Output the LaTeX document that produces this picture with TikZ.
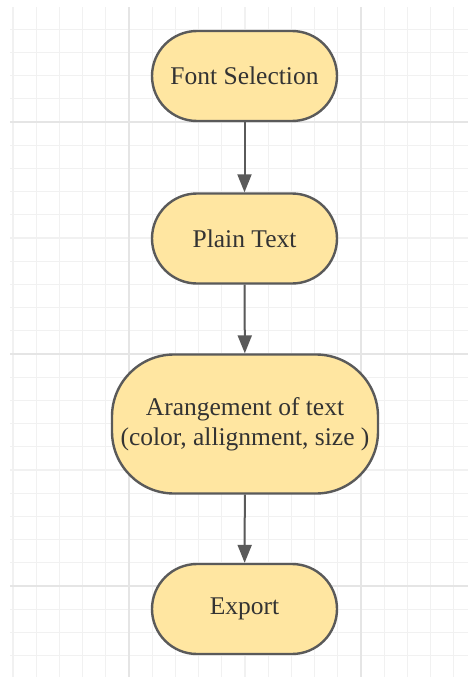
\documentclass[tikz,border=0pt]{standalone}
\usepackage{fontspec}
\setmainfont{Liberation Serif}
\usetikzlibrary{arrows.meta}
\definecolor{gridminor}{HTML}{F1F1F1}
\definecolor{gridmajor}{HTML}{E5E5E5}
\definecolor{boxfill}{HTML}{FFE6A1}
\definecolor{boxline}{HTML}{5A5A5A}
\definecolor{txt}{HTML}{333333}
\tikzset{
  stepbox/.style={draw=boxline, line width=2.4pt, fill=boxfill,
    rounded corners=45pt, minimum width=185pt, minimum height=90pt,
    inner sep=0pt, text=txt, font=\fontsize{25.5}{30}\selectfont, align=center},
  flow/.style={draw=boxline, line width=2pt,
    -{Triangle[length=18pt,width=14pt]}},
}
\begin{document}
\begin{tikzpicture}[x=1pt,y=-1pt]
  \useasboundingbox (0,0) rectangle (468,677);
  \fill[white] (0,0) rectangle (468,677);
  % background grid
  \begin{scope}
    \clip (10,8) rectangle (468,677);
    \foreach \k in {0,...,19} {
      \draw[gridminor, line width=1.2pt] ({13+23.2*\k},0) -- ({13+23.2*\k},677);
    }
    \foreach \k in {0,...,29} {
      \draw[gridminor, line width=1.2pt] (0,{6+23.2*\k}) -- (468,{6+23.2*\k});
    }
    \foreach \k in {5,15} {
      \draw[gridmajor, line width=1.5pt] ({13+23.2*\k},0) -- ({13+23.2*\k},677);
    }
    \foreach \k in {5,15,25} {
      \draw[gridmajor, line width=1.5pt] (0,{6+23.2*\k}) -- (468,{6+23.2*\k});
    }
  \end{scope}
  % flow steps
  \node[stepbox] (font) at (244.5,76) {Font Selection};
  \node[stepbox] (plain) at (244.5,238.5) {Plain Text};
  \node[stepbox, minimum width=266pt, minimum height=139pt, rounded corners=62pt]
    (arrange) at (245,424) {Arangement of text\\(color, allignment, size )};
  \node[stepbox] (export) at (244.5,609) {Export};
  % connectors
  \draw[flow] (font) -- (plain);
  \draw[flow] (plain) -- (arrange);
  \draw[flow] (arrange) -- (export);
\end{tikzpicture}
\end{document}
